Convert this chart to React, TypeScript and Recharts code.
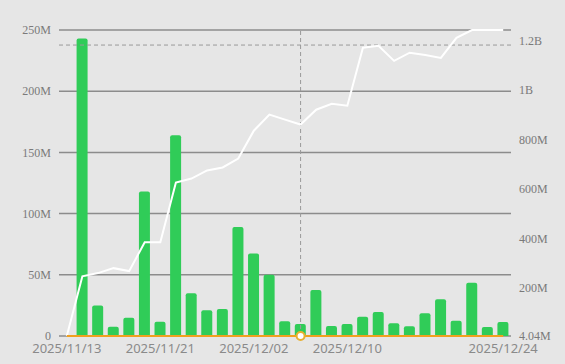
import {
  ComposedChart,
  Bar,
  Line,
  XAxis,
  YAxis,
  CartesianGrid,
  ReferenceLine,
} from "recharts";

// trading days shown on the category axis
const dates = [
  "2025/11/13", "2025/11/14", "2025/11/17", "2025/11/18", "2025/11/19", "2025/11/20",
  "2025/11/21", "2025/11/24", "2025/11/25", "2025/11/26", "2025/11/28", "2025/12/01",
  "2025/12/02", "2025/12/03", "2025/12/04", "2025/12/05", "2025/12/08", "2025/12/09",
  "2025/12/10", "2025/12/11", "2025/12/12", "2025/12/15", "2025/12/16", "2025/12/17",
  "2025/12/18", "2025/12/19", "2025/12/22", "2025/12/23", "2025/12/24",
];

// daily volume (left axis)
const volume = [
  0, 243e6, 25e6, 7.6e6, 15e6, 118e6, 11.7e6, 164e6, 35e6, 21e6, 22e6, 89e6, 67.5e6, 50e6,
  12e6, 9.8e6, 37.6e6, 8.2e6, 9.8e6, 15.8e6, 19.6e6, 10.4e6, 7.9e6, 18.5e6, 30e6, 12.5e6,
  43.6e6, 7.3e6, 11.4e6,
];

// cumulative total (right axis)
const cumulative = [
  4.04e6, 246e6, 259e6, 279e6, 267e6, 384e6, 384e6, 626e6, 642e6, 675e6, 687e6, 723e6,
  836e6, 901e6, 881e6, 861e6, 921e6, 945e6, 937e6, 1172e6, 1180e6, 1119e6, 1152e6,
  1143e6, 1131e6, 1212e6, 1244e6, 1244e6, 1244e6,
];

// small series hugging the baseline
const flow = [
  0, 0, 0, 0, 0, 0, 0, 0, 0, 0, 0, 0, 0, 0, 0, 0, 0, 0, 0, 0, 0, 0, 0, 0, 0, 0, 0, 0, 0,
];

const xTicks = ["2025/11/13", "2025/11/21", "2025/12/02", "2025/12/10", "2025/12/24"];
const leftTicks = [0, 50e6, 100e6, 150e6, 200e6, 250e6];
const rightTicks = [4.04e6, 200e6, 400e6, 600e6, 800e6, 1e9, 1.2e9];

// hover crosshair
const hoverIndex = 15;
const hoverLevel = 237.7e6;

const data = dates.map((date, i) => ({
  date,
  volume: volume[i],
  cumulative: cumulative[i],
  flow: flow[i],
}));

const fmt = (v: number) => {
  if (v === 0) return "0";
  if (v >= 1e9) return `${+(v / 1e9).toFixed(2)}B`;
  return `${+(v / 1e6).toFixed(2)}M`;
};

const serifTick = { fontSize: 12, fill: "#7a7a7a", fontFamily: "Liberation Serif" };

export default function App() {
  return (
    <div style={{ position: "absolute", left: 0, top: 0, width: 565, height: 364, background: "#e6e6e6" }}>
      <ComposedChart
        width={565}
        height={364}
        data={data}
        margin={{ top: 30, right: 0, bottom: 0, left: 0 }}
        barCategoryGap={0}
      >
        <CartesianGrid vertical={false} stroke="#8c8c8c" strokeWidth={1.5} yAxisId="left" />
        <XAxis
          dataKey="date"
          ticks={xTicks}
          interval={0}
          tickLine={false}
          axisLine={false}
          height={28}
          tick={{ fontSize: 13, fill: "#8a8a8a", fontFamily: "Noto Sans" }}
        />
        <YAxis
          yAxisId="left"
          width={59}
          domain={[0, 250e6]}
          ticks={leftTicks}
          tickFormatter={fmt}
          tickLine={false}
          axisLine={false}
          tick={serifTick}
        />
        <YAxis
          yAxisId="right"
          orientation="right"
          width={54}
          domain={[4.04e6, 1244e6]}
          ticks={rightTicks}
          tickFormatter={fmt}
          tickLine={false}
          axisLine={false}
          tick={{ ...serifTick, textAnchor: "start" }}
        />
        <Bar
          yAxisId="left"
          dataKey="volume"
          fill="#30cc58"
          barSize={11}
          radius={[2, 2, 0, 0]}
          isAnimationActive={false}
        />
        <ReferenceLine
          yAxisId="left"
          x={dates[hoverIndex]}
          stroke="#999"
          strokeDasharray="4 3"
        />
        <ReferenceLine
          yAxisId="left"
          y={hoverLevel}
          stroke="#999"
          strokeDasharray="4 3"
        />
        <Line
          yAxisId="right"
          dataKey="cumulative"
          stroke="#ffffff"
          strokeWidth={2}
          type="linear"
          dot={false}
          isAnimationActive={false}
        />
        <Line
          yAxisId="left"
          dataKey="flow"
          stroke="#f0a020"
          strokeWidth={2}
          type="linear"
          dot={(p: any) =>
            p.index === hoverIndex ? (
              <circle key={p.index} cx={p.cx} cy={p.cy} r={4} fill="#ffffff" stroke="#e8b030" strokeWidth={2} />
            ) : (
              <g key={p.index} />
            )
          }
          isAnimationActive={false}
        />
      </ComposedChart>
    </div>
  );
}
